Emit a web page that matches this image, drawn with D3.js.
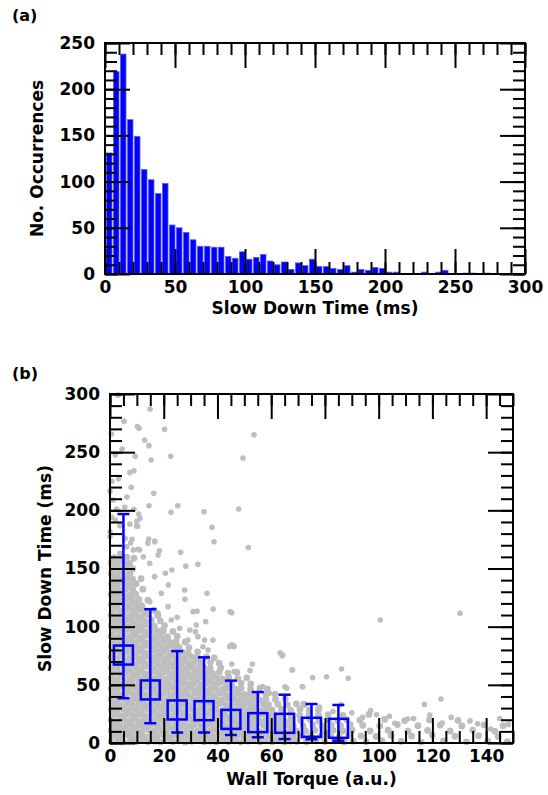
<!DOCTYPE html>
<html>
<head>
<meta charset="utf-8">
<script src="https://cdnjs.cloudflare.com/ajax/libs/d3/7.8.5/d3.min.js"></script>
<style>
  body { margin: 0; background: #fff; }
  text { font-family: "DejaVu Sans", sans-serif; font-weight: bold; font-size: 17px; fill: #000; }
</style>
</head>
<body>
<script>
// ---- panel (a): histogram of slow down times, 5 ms bins starting at 0
var histBinWidth = 5;
var histCounts = [131, 219, 238, 167, 149, 113, 102, 87, 98, 53,
                  50, 45, 37, 30, 30, 29, 29, 19, 17, 24,
                  16, 18, 21, 14, 10, 13, 5, 12, 9, 16,
                  8, 8, 6, 5, 9, 2, 5, 4, 7, 6,
                  2, 2, 0, 0, 0, 2, 0, 2, 4, 0,
                  0, 1, 1, 0, 1, 0, 0, 0, 0, 0];
var histXTicks = [0, 50, 100, 150, 200, 250, 300];
var histYTicks = [0, 50, 100, 150, 200, 250];

// ---- panel (b): binned averages with spread
var torqueCenters = [5, 15, 25, 35, 45, 55, 65, 75, 85];
var meanTime  = [75.6, 45.6, 28.4, 27.8, 20.3, 17.5, 16.9, 13.5, 12.6];
var upperTime = [196.8, 115, 79, 73.6, 53.6, 43.8, 41.5, 33.5, 32.7];
var lowerTime = [38.5, 17, 9, 9, 6.9, 4.9, 3.4, 3.2, 2];
var torqueTicks = [0, 20, 40, 60, 80, 100, 120, 140];
var timeTicks = [0, 50, 100, 150, 200, 250, 300];

// individual events [wall torque, slow down time] - scattered ones
var scatterOutliers = [
  [3,299],[14.9,287],[5.2,276.5],[10.2,272],[10.8,270.5],[20.3,269.6],[53.6,265],[0.5,265.6],
  [12.9,260.5],[14.5,255.6],[4.5,252.7],[2,247.6],[9.4,246.4],[22.6,246.4],[15.3,243.3],[49.5,245],
  [8.9,234],[7.4,232.4],[3.2,227.2],[0.7,225],[7.9,219.8],[0,216.3],[16.3,214.6],[6.3,211.5],
  [1.2,208.9],[14.5,204],[25.2,204],[22.7,198.3],[35,198.8],[47.9,201.2],[5.5,202.6],[2.5,201.2],
  [8.9,200.9],[10.7,196.9],[11.2,193.2],[10,190.6],[7.4,188.3],[10.3,186.3],[0.7,194],[2,191.7],
  [38,185.4],[38.7,173],[14.4,175.4],[16.6,173.6],[8.2,175.1],[51.5,168],[3.7,186.8],[9.9,186.5],
  [0,181.6],[0,177.3],[5.6,176],[6.2,168.7],[8.7,166],[10.5,166.5],[3.7,163],[12.4,160],
  [7.7,172],[11,166],[14.8,154.5],[14.1,171.7],[17.9,161.6],[18.4,165.3],[16.7,173],
  [32.7,153.6],[28.2,152],[26.3,164],[23,148.7],[20.6,145.9],[21.7,135.8],[36.1,128.7],[27.9,123.5],
  [32.4,113.2],[38.4,115.2],[44.7,112.9],[25,108],[22.8,105.7],[35.6,104.3],[19.1,97.1],[21.6,91.4],
  [25.9,98.6],[29.7,97.1],[31.8,95.7],[35.2,88.5],[36.5,80],[45.1,84.2],[46.1,83.4],
  [16.6,143],[19.1,128.7],[27.8,131.5],[30.9,112.9],[21.6,117.2],[14.8,121.5],[32.1,101.4],[17.9,111.5],
  [29,88.5],[32.7,91.4],[34.6,82.8],[38.3,88.5],[44.5,82.8],
  [45.3,112],[45.7,84.2],[46.2,82.8],[63.3,77.6],[64.1,75.1],[45.3,67.9],[53,67.9],[52.1,62.2],
  [46.2,61.4],[67.9,62.7],[86.2,63.6],[88.7,55.6],[80.6,57],[75.4,56.2],[71.6,48.5],[65.8,47.1],
  [49,47.1],[56.8,48.5],[59.3,42.8],[64.3,75.6],[67.8,62.7],[65.1,48.4],[71.7,48.4],
  [100.6,105.7],[130.3,111.5],[117,33.2],[123.2,37.8],[99.2,24.3],[110.8,20.6],[136.8,16.6],[123.6,17.2],
  [148.3,16],[141.7,12],[72,34],[78,31],[83,27],[86,33],[90,26],[94,22],[97,28],[104,23],
  [106,17],[113,21],[119,24],[127,22],[134,19],[145,21]
];

// individual events [wall torque, slow down time] - the crowded low-torque core
var scatterCore = [
  [0.4,1.2],[2.9,2.0],[5.0,0.9],[7.5,1.8],[9.6,1.1],[12.1,2.2],[14.2,1.0],[16.7,1.6],[18.8,0.8],[21.2,2.1],[23.4,1.3],[25.8,1.9],[28.0,0.7],[30.4,1.5],[32.6,2.2],[35.1,1.0],[37.3,1.7],[39.5,0.9],[41.9,2.0],[44.1,1.2],[46.5,1.8],[48.7,0.8],[51.2,1.6],[53.3,2.3],[55.8,1.0],[57.9,1.9],[60.4,1.1],[62.6,2.0],[65.0,0.9],[67.1,1.7],[69.5,1.3],
  [73.1,1.0],[76.6,2.1],[80.0,1.2],[83.6,1.8],[87.2,0.9],[90.5,1.6],[95.3,1.1],[101.2,2.0],[108.4,1.3],[115.8,0.8],[124.1,1.9],[132.7,1.0],[140.6,1.5],[147.9,1.2],
  [1.5,6.3],[3.8,5.6],[6.2,6.8],[8.4,5.9],[10.8,6.4],[13.0,5.4],[15.4,6.7],[17.6,5.8],[20.0,6.5],[22.3,5.5],[24.5,6.9],[26.9,6.0],[29.1,5.4],[31.5,6.6],[33.7,5.7],[36.1,6.4],[38.4,5.5],[40.6,6.8],[43.0,6.0],[45.2,5.6],[47.6,6.6],[49.8,5.8],[52.2,6.3],[54.5,5.5],[56.7,6.9],[59.1,5.9],[61.3,6.4],[63.7,5.6],[65.9,6.7],[68.3,6.0],
  [71.6,5.7],[75.0,6.6],[78.4,5.9],[82.1,6.4],[85.3,5.5],[88.9,6.8],[93.4,6.2],[99.0,5.6],[104.6,6.5],[112.3,5.9],[120.0,6.7],[128.4,5.8],[137.2,6.3],[144.5,5.5],
  [0.5,10.8],[2.7,10.1],[5.1,11.2],[7.3,10.3],[9.7,10.9],[11.9,10.0],[14.3,11.3],[16.5,10.4],[18.9,10.9],[21.1,10.2],[23.5,11.1],[25.7,10.5],[28.1,9.9],[30.3,11.0],[32.7,10.3],[34.9,11.2],[37.3,10.1],[39.5,10.8],[41.9,10.0],[44.2,11.3],[46.4,10.4],[48.8,11.0],[51.0,10.2],[53.4,10.8],[55.6,10.0],[58.0,11.1],[60.2,10.4],[62.6,10.9],[64.8,10.1],[67.2,11.0],[69.4,10.5],
  [72.8,10.2],[76.3,11.1],[79.7,10.0],[83.0,10.9],[86.6,10.3],[90.1,11.2],[96.8,10.4],[103.5,11.0],[110.9,10.1],[118.2,10.8],[126.6,10.3],[135.0,11.1],[143.3,10.0],
  [1.6,15.3],[3.8,14.6],[6.2,15.7],[8.4,14.8],[10.8,15.4],[13.0,14.5],[15.4,15.8],[17.6,14.9],[20.0,15.5],[22.2,14.6],[24.6,15.9],[26.8,15.0],[29.2,14.5],[31.4,15.6],[33.8,14.8],[36.0,15.4],[38.4,14.6],[40.6,15.8],[43.0,15.0],[45.2,14.6],[47.6,15.6],[49.8,14.8],[52.2,15.3],[54.4,14.5],[56.8,15.8],[59.0,14.9],[61.4,15.4],[63.6,14.6],[66.0,15.7],[68.2,15.0],
  [71.9,14.8],[75.5,15.6],[78.9,14.7],[82.4,15.5],[85.8,14.9],[89.4,15.7],[94.1,15.2],[100.4,14.6],[107.0,15.8],[114.6,14.9],[122.9,15.4],[131.0,14.7],[139.2,15.6],[146.3,14.9],
  [0.4,19.8],[2.8,19.1],[5.0,20.2],[7.4,19.3],[9.6,19.9],[12.0,19.0],[14.2,20.3],[16.6,19.4],[18.8,19.9],[21.2,19.2],[23.4,20.1],[25.8,19.5],[28.0,18.9],[30.4,20.0],[32.6,19.3],[35.0,20.2],[37.2,19.1],[39.6,19.8],[41.8,19.0],[44.2,20.3],[46.4,19.4],[48.8,20.0],[51.0,19.2],[53.4,19.8],[55.6,19.0],[58.0,20.1],[60.2,19.4],[62.6,19.9],[64.8,19.1],[67.2,20.0],
  [70.9,19.3],[74.4,20.2],[77.8,19.0],[81.3,19.9],[84.8,19.2],[88.1,20.1],[93.0,19.6],[102.2,20.3],[109.7,19.2],[118.9,19.8],[129.5,19.4],
  [1.5,24.3],[3.9,23.6],[6.1,24.7],[8.5,23.8],[10.7,24.4],[13.1,23.5],[15.3,24.8],[17.7,23.9],[19.9,24.5],[22.3,23.6],[24.5,24.9],[26.9,24.0],[29.1,23.5],[31.5,24.6],[33.7,23.8],[36.1,24.4],[38.3,23.6],[40.7,24.8],[42.9,24.0],[45.3,23.6],[47.5,24.6],[49.9,23.8],[52.1,24.3],[54.5,23.5],[56.7,24.8],[59.1,23.9],[61.3,24.4],[63.7,23.6],
  [67.2,24.5],[70.6,23.7],[74.1,24.6],[77.6,23.9],[81.2,24.4],[86.7,23.8],[96.4,24.6],
  [0.5,28.8],[2.7,28.1],[5.1,29.2],[7.3,28.3],[9.7,28.9],[11.9,28.0],[14.3,29.3],[16.5,28.4],[18.9,28.9],[21.1,28.2],[23.5,29.1],[25.7,28.5],[28.1,27.9],[30.3,29.0],[32.7,28.3],[34.9,29.2],[37.3,28.1],[39.5,28.8],[41.9,28.0],[44.1,29.3],[46.5,28.4],[48.7,29.0],[51.1,28.2],[53.3,28.8],[55.7,28.0],[57.9,29.1],[60.3,28.4],
  [63.8,28.9],[67.3,28.1],[70.7,29.0],[74.2,28.3],[77.6,28.9],
  [1.6,33.3],[3.8,32.6],[6.2,33.7],[8.4,32.8],[10.8,33.4],[13.0,32.5],[15.4,33.8],[17.6,32.9],[20.0,33.5],[22.2,32.6],[24.6,33.9],[26.8,33.0],[29.2,32.5],[31.4,33.6],[33.8,32.8],[36.0,33.4],[38.4,32.6],[40.6,33.8],[43.0,33.0],[45.2,32.6],[47.6,33.6],[49.8,32.8],[52.2,33.3],[54.4,32.5],[56.8,33.8],[59.0,32.9],
  [62.5,33.4],[66.0,32.7],[69.4,33.6],[72.3,32.9],
  [0.4,37.8],[2.8,37.1],[5.0,38.2],[7.4,37.3],[9.6,37.9],[12.0,37.0],[14.2,38.3],[16.6,37.4],[18.8,37.9],[21.2,37.2],[23.4,38.1],[25.8,37.5],[28.0,36.9],[30.4,38.0],[32.6,37.3],[35.0,38.2],[37.2,37.1],[39.6,37.8],[41.8,37.0],[44.2,38.3],[46.4,37.4],[48.8,38.0],[51.0,37.2],[53.4,37.8],[55.6,37.0],[58.0,38.1],
  [61.6,37.4],[65.2,38.0],
  [1.5,42.3],[3.9,41.6],[6.1,42.7],[8.5,41.8],[10.7,42.4],[13.1,41.5],[15.3,42.8],[17.7,41.9],[19.9,42.5],[22.3,41.6],[24.5,42.9],[26.9,42.0],[29.1,41.5],[31.5,42.6],[33.7,41.8],[36.1,42.4],[38.3,41.6],[40.7,42.8],[42.9,42.0],[45.3,41.6],[47.5,42.6],[49.9,41.8],[52.1,42.3],[54.5,41.5],
  [58.0,42.4],[61.5,41.9],
  [0.5,46.8],[2.7,46.1],[5.1,47.2],[7.3,46.3],[9.7,46.9],[11.9,46.0],[14.3,47.3],[16.5,46.4],[18.9,46.9],[21.1,46.2],[23.5,47.1],[25.7,46.5],[28.1,45.9],[30.3,47.0],[32.7,46.3],[34.9,47.2],[37.3,46.1],[39.5,46.8],[41.9,46.0],[44.1,47.3],[46.5,46.4],[48.7,47.0],
  [52.3,46.3],[55.8,47.1],[58.6,46.5],
  [1.6,51.3],[3.8,50.6],[6.2,51.7],[8.4,50.8],[10.8,51.4],[13.0,50.5],[15.4,51.8],[17.6,50.9],[20.0,51.5],[22.2,50.6],[24.6,51.9],[26.8,51.0],[29.2,50.5],[31.4,51.6],[33.8,50.8],[36.0,51.4],[38.4,50.6],[40.6,51.8],[43.0,51.0],[45.2,50.6],
  [48.8,51.5],[52.4,50.8],
  [0.4,55.8],[2.8,55.1],[5.0,56.2],[7.4,55.3],[9.6,55.9],[12.0,55.0],[14.2,56.3],[16.6,55.4],[18.8,55.9],[21.2,55.2],[23.4,56.1],[25.8,55.5],[28.0,54.9],[30.4,56.0],[32.6,55.3],[35.0,56.2],[37.2,55.1],[39.6,55.8],[41.8,55.0],[44.2,56.3],
  [47.6,55.4],[50.9,56.0],
  [1.5,60.3],[3.9,59.6],[6.1,60.7],[8.5,59.8],[10.7,60.4],[13.1,59.5],[15.3,60.8],[17.7,59.9],[19.9,60.5],[22.3,59.6],[24.5,60.9],[26.9,60.0],[29.1,59.5],[31.5,60.6],[33.7,59.8],[36.1,60.4],[38.3,59.6],[40.7,60.8],
  [43.9,60.1],[47.2,60.7],
  [0.5,64.8],[2.7,64.1],[5.1,65.2],[7.3,64.3],[9.7,64.9],[11.9,64.0],[14.3,65.3],[16.5,64.4],[18.9,64.9],[21.1,64.2],[23.5,65.1],[25.7,64.5],[28.1,63.9],[30.3,65.0],[32.7,64.3],[34.9,65.2],[37.3,64.1],
  [41.2,64.7],
  [1.6,69.3],[3.8,68.6],[6.2,69.7],[8.4,68.8],[10.8,69.4],[13.0,68.5],[15.4,69.8],[17.6,68.9],[20.0,69.5],[22.2,68.6],[24.6,69.9],[26.8,69.0],[29.2,68.5],[31.4,69.6],[33.8,68.8],
  [37.4,69.3],[40.6,68.7],
  [0.4,73.8],[2.8,73.1],[5.0,74.2],[7.4,73.3],[9.6,73.9],[12.0,73.0],[14.2,74.3],[16.6,73.4],[18.8,73.9],[21.2,73.2],[23.4,74.1],[25.8,73.5],[28.0,72.9],[30.4,74.0],[32.6,73.3],
  [35.9,74.0],[38.8,73.2],
  [1.5,78.3],[3.9,77.6],[6.1,78.7],[8.5,77.8],[10.7,78.4],[13.1,77.5],[15.3,78.8],[17.7,77.9],[19.9,78.5],[22.3,77.6],[24.5,78.9],[26.9,78.0],[29.1,77.5],
  [32.6,78.4],
  [0.5,82.8],[2.7,82.1],[5.1,83.2],[7.3,82.3],[9.7,82.9],[11.9,82.0],[14.3,83.3],[16.5,82.4],[18.9,82.9],[21.1,82.2],[23.5,83.1],[25.7,82.5],
  [29.4,82.0],
  [1.6,87.3],[3.8,86.6],[6.2,87.7],[8.4,86.8],[10.8,87.4],[13.0,86.5],[15.4,87.8],[17.6,86.9],[20.0,87.5],[22.2,86.6],[24.6,87.2],
  [28.0,86.8],
  [0.4,91.8],[2.8,91.1],[5.0,92.2],[7.4,91.3],[9.6,91.9],[12.0,91.0],[14.2,92.3],[16.6,91.4],[18.8,91.9],[21.2,91.2],
  [25.0,91.8],
  [1.5,96.3],[3.9,95.6],[6.1,96.7],[8.5,95.8],[10.7,96.4],[13.1,95.5],[15.3,96.8],[17.7,95.9],[19.9,96.5],
  [23.4,95.9],
  [0.5,100.8],[2.7,100.1],[5.1,101.2],[7.3,100.3],[9.7,100.9],[11.9,100.0],[14.3,101.3],[16.5,100.4],
  [20.3,100.9],
  [1.6,105.3],[3.8,104.6],[6.2,105.7],[8.4,104.8],[10.8,105.4],[13.0,104.5],[15.4,105.8],
  [18.7,104.9],
  [0.4,109.8],[2.8,109.1],[5.0,110.2],[7.4,109.3],[9.6,109.9],[12.0,109.0],[14.2,110.3],
  [17.8,109.6],
  [1.5,114.3],[3.9,113.6],[6.1,114.7],[8.5,113.8],[10.7,114.4],[13.1,113.5],
  [16.4,114.2],
  [0.5,118.8],[2.7,118.1],[5.1,119.2],[7.3,118.3],[9.7,118.9],[11.9,118.0],
  [1.6,123.3],[3.8,122.6],[6.2,123.7],[8.4,122.8],[10.8,123.4],
  [14.1,122.9],
  [0.4,127.8],[2.8,127.1],[5.0,128.2],[7.4,127.3],[9.6,127.9],
  [1.5,132.3],[3.9,131.6],[6.1,132.7],[8.5,131.8],
  [12.2,132.2],
  [0.5,136.8],[2.7,136.1],[5.1,137.2],[7.3,136.3],[9.7,136.9],
  [1.6,141.3],[3.8,140.6],[6.2,141.7],[8.4,140.8],
  [11.6,141.2],
  [0.4,145.8],[2.8,145.1],[5.0,146.2],[7.4,145.3],
  [1.5,150.3],[3.9,149.6],[6.1,150.7],[8.5,149.8],
  [0.5,154.8],[2.7,154.1],[5.1,155.2],[7.3,154.3],
  [1.6,159.3],[3.8,158.6],[6.2,159.7],[8.9,158.8]
];

var width = 548, height = 795;

var svg = d3.select("body")
    .append("svg")
    .attr("width", width)
    .attr("height", height);

// draws major/minor inward ticks on all four sides plus the box
function addAxis(g, axis, transform, keepLabels) {
    var a = g.append("g").attr("transform", transform).call(axis);
    a.select(".domain").remove();
    a.selectAll(".tick line").attr("stroke", "#000").attr("stroke-width", 2);
    if (!keepLabels) a.selectAll("text").remove();
    return a;
}

function drawFrame(g, x, y, xMajor, xMinor, yMajor, yMinor) {
    var L = x.range()[0], R = x.range()[1], B = y.range()[0], T = y.range()[1];
    [[xMinor, yMinor, 12, false], [xMajor, yMajor, 25, true]].forEach(function (s) {
        var bottom = addAxis(g, d3.axisBottom(x).tickValues(s[0]).tickSize(-s[2]).tickFormat(d3.format("d")),
            "translate(0," + B + ")", s[3]);
        bottom.selectAll("text").attr("y", 19).attr("dy", null);
        addAxis(g, d3.axisTop(x).tickValues(s[0]).tickSize(-s[2]), "translate(0," + T + ")", false);
        addAxis(g, d3.axisLeft(y).tickValues(s[1]).tickSize(-s[2]).tickPadding(10).tickFormat(d3.format("d")),
            "translate(" + L + ",0)", s[3]);
        addAxis(g, d3.axisRight(y).tickValues(s[1]).tickSize(-s[2]), "translate(" + R + ",0)", false);
    });
    g.append("rect")
        .attr("x", L).attr("y", T)
        .attr("width", R - L).attr("height", B - T)
        .attr("fill", "none")
        .attr("stroke", "#000")
        .attr("stroke-width", 2);
}

// ---------- panel (a)
var xa = d3.scaleLinear().domain([0, 300]).range([105, 525]);
var ya = d3.scaleLinear().domain([0, 250]).range([274, 43]);
var pa = svg.append("g");

pa.append("g")
    .selectAll("rect")
    .data(histCounts)
    .enter().append("rect")
    .attr("x", function (d, i) { return xa(i * histBinWidth) + 1.5; })
    .attr("width", xa(histBinWidth) - xa(0) - 1.5)
    .attr("y", function (d) { return ya(d); })
    .attr("height", function (d) { return ya(0) - ya(d); })
    .attr("fill", "#0000ff")
    .attr("stroke", "#5a5aff")
    .attr("stroke-width", 0.8);

drawFrame(pa, xa, ya, histXTicks, d3.range(0, 301, 10), histYTicks, d3.range(0, 251, 10));

svg.append("text").attr("x", 12).attr("y", 21).style("font-size", "16px").text("(a)");
svg.append("text")
    .attr("text-anchor", "middle")
    .attr("transform", "translate(43," + (ya.range()[0] + ya.range()[1]) / 2 + ") rotate(-90)")
    .text("No. Occurrences");
svg.append("text")
    .attr("text-anchor", "middle")
    .attr("x", (xa.range()[0] + xa.range()[1]) / 2)
    .attr("y", 314)
    .text("Slow Down Time (ms)");

// ---------- panel (b)
var xb = d3.scaleLinear().domain([0, 150]).range([110, 513]);
var yb = d3.scaleLinear().domain([0, 300]).range([743, 394]);
var pb = svg.append("g");

// crowded core drawn a touch larger so it reads as the solid grey mass it is
pb.append("g")
    .selectAll("circle")
    .data(scatterCore)
    .enter().append("circle")
    .attr("cx", function (d) { return xb(d[0]); })
    .attr("cy", function (d) { return yb(d[1]); })
    .attr("r", 3.4)
    .attr("fill", "#bebebe");

pb.append("g")
    .selectAll("circle")
    .data(scatterOutliers)
    .enter().append("circle")
    .attr("cx", function (d) { return xb(d[0]); })
    .attr("cy", function (d) { return yb(d[1]); })
    .attr("r", 2.8)
    .attr("fill", "#bebebe");

var bars = pb.append("g")
    .attr("stroke", "#0000ff")
    .attr("stroke-width", 2.5)
    .attr("fill", "none");

torqueCenters.forEach(function (t, i) {
    var cx = xb(t);
    bars.append("line")
        .attr("x1", cx).attr("x2", cx)
        .attr("y1", yb(upperTime[i])).attr("y2", yb(lowerTime[i]));
    [upperTime[i], lowerTime[i]].forEach(function (v) {
        bars.append("line")
            .attr("x1", cx - 6).attr("x2", cx + 6)
            .attr("y1", yb(v)).attr("y2", yb(v));
    });
    bars.append("rect")
        .attr("x", cx - 9.5).attr("y", yb(meanTime[i]) - 9.5)
        .attr("width", 19).attr("height", 19);
});

drawFrame(pb, xb, yb, torqueTicks, d3.range(0, 151, 5), timeTicks, d3.range(0, 301, 10));

svg.append("text").attr("x", 12).attr("y", 379).style("font-size", "16px").text("(b)");
svg.append("text")
    .attr("text-anchor", "middle")
    .attr("transform", "translate(51," + (yb.range()[0] + yb.range()[1]) / 2 + ") rotate(-90)")
    .text("Slow Down Time (ms)");
svg.append("text")
    .attr("text-anchor", "middle")
    .attr("x", (xb.range()[0] + xb.range()[1]) / 2)
    .attr("y", 785)
    .text("Wall Torque (a.u.)");
</script>
</body>
</html>
